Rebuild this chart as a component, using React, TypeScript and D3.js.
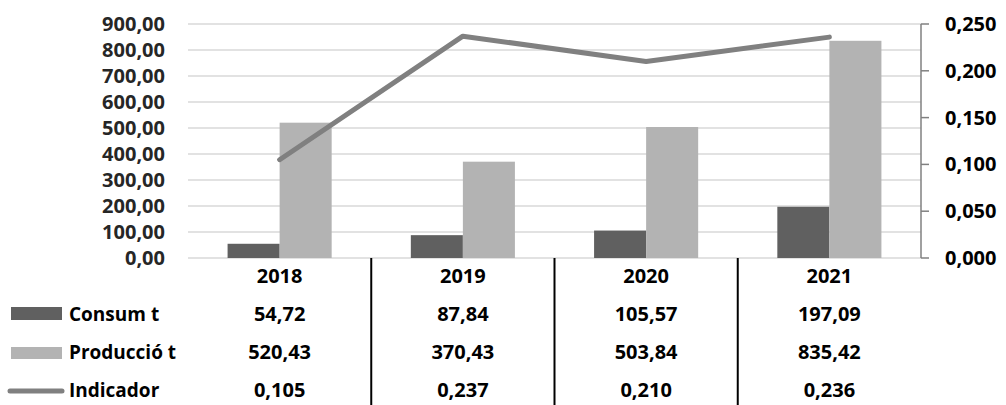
import React from "react";
import * as d3 from "d3";

const categories = ["2018", "2019", "2020", "2021"];
const consum = [54.72, 87.84, 105.57, 197.09];
const produccio = [520.43, 370.43, 503.84, 835.42];
const indicador = [0.105, 0.237, 0.21, 0.236];
const leftTicks = [0, 100, 200, 300, 400, 500, 600, 700, 800, 900];
const rightTicks = [0, 0.05, 0.1, 0.15, 0.2, 0.25];
const seriesNames = ["Consum t", "Producció t", "Indicador"];

const W = 1006;
const H = 405;
const plotLeft = 188;
const plotRight = 921;
const plotTop = 24;
const plotBottom = 258;
const FONT = "'Open Sans', sans-serif";
const FS = 20;

const locale = d3.formatLocale({ decimal: ",", thousands: ".", grouping: [3], currency: ["", "€"] });
const f2 = locale.format(".2f");
const f3 = locale.format(".3f");

export default function App() {
  const x0 = d3.scaleBand<string>().domain(categories).range([plotLeft, plotRight]).paddingInner(0).paddingOuter(0);
  const bw = x0.bandwidth();
  const groupW = bw * 0.568;
  const x1 = d3.scaleBand<number>().domain([0, 1]).range([0, groupW]);
  const yL = d3.scaleLinear().domain([0, 900]).range([plotBottom, plotTop]);
  const yR = d3.scaleLinear().domain([0, 0.25]).range([plotBottom, plotTop]);
  const cx = (c: string) => (x0(c) as number) + bw / 2;

  const line = d3
    .line<number>()
    .x((_, i) => cx(categories[i]))
    .y((d) => yR(d));

  const rowY = [276, 314, 352, 390];
  const rows = [consum.map(f2), produccio.map(f2), indicador.map(f3)];

  return (
    <svg width={W} height={H} style={{ position: "absolute", left: 0, top: 0, background: "#fff" }} fontFamily={FONT}>
      {/* gridlines */}
      {leftTicks.map((t) => (
        <line key={t} x1={plotLeft} x2={plotRight} y1={yL(t)} y2={yL(t)} stroke="#d9d9d9" strokeWidth={1.6} />
      ))}
      {/* left labels */}
      {leftTicks.map((t) => (
        <text key={"l" + t} x={165} y={yL(t)} dy="0.35em" textAnchor="end" fontSize={FS} fontWeight="bold" fill="#262626">
          {f2(t)}
        </text>
      ))}
      {/* bars */}
      {categories.map((c, i) => {
        const gx = cx(c) - groupW / 2;
        return (
          <g key={c}>
            <rect x={gx + (x1(0) as number)} y={yL(consum[i])} width={x1.bandwidth()} height={plotBottom - yL(consum[i])} fill="#606060" />
            <rect x={gx + (x1(1) as number)} y={yL(produccio[i])} width={x1.bandwidth()} height={plotBottom - yL(produccio[i])} fill="#b3b3b3" />
          </g>
        );
      })}
      {/* line */}
      <path d={line(indicador) || ""} fill="none" stroke="#808080" strokeWidth={5} strokeLinecap="round" strokeLinejoin="round" />
      {/* right axis */}
      <line x1={plotRight} x2={plotRight} y1={plotTop} y2={plotBottom} stroke="#808080" strokeWidth={1.5} />
      {rightTicks.map((t) => (
        <g key={"r" + t}>
          <line x1={plotRight} x2={plotRight + 8} y1={yR(t)} y2={yR(t)} stroke="#808080" strokeWidth={1.5} />
          <text x={945} y={yR(t)} dy="0.35em" textAnchor="start" fontSize={FS} fontWeight="bold" fill="#000">
            {f3(t)}
          </text>
        </g>
      ))}
      {/* table separators */}
      {categories.slice(1).map((c) => (
        <line key={"s" + c} x1={x0(c) as number} x2={x0(c) as number} y1={plotBottom} y2={H} stroke="#000" strokeWidth={2} />
      ))}
      {/* year labels */}
      {categories.map((c) => (
        <text key={"y" + c} x={cx(c)} y={rowY[0]} dy="0.35em" textAnchor="middle" fontSize={FS} fontWeight="bold" fill="#000">
          {c}
        </text>
      ))}
      {/* table rows */}
      {rows.map((vals, r) => (
        <g key={"row" + r}>
          {vals.map((v, i) => (
            <text key={i} x={cx(categories[i])} y={rowY[r + 1]} dy="0.35em" textAnchor="middle" fontSize={FS} fontWeight="bold" fill="#000">
              {v}
            </text>
          ))}
          <text x={69} y={rowY[r + 1]} dy="0.35em" fontSize={FS - 1} fontWeight="bold" fill="#000">
            {seriesNames[r]}
          </text>
        </g>
      ))}
      {/* legend keys */}
      <rect x={11} y={307} width={51} height={13} fill="#606060" />
      <rect x={11} y={347} width={51} height={12} fill="#b3b3b3" />
      <line x1={10} x2={62} y1={391} y2={391} stroke="#808080" strokeWidth={5} strokeLinecap="round" />
    </svg>
  );
}
